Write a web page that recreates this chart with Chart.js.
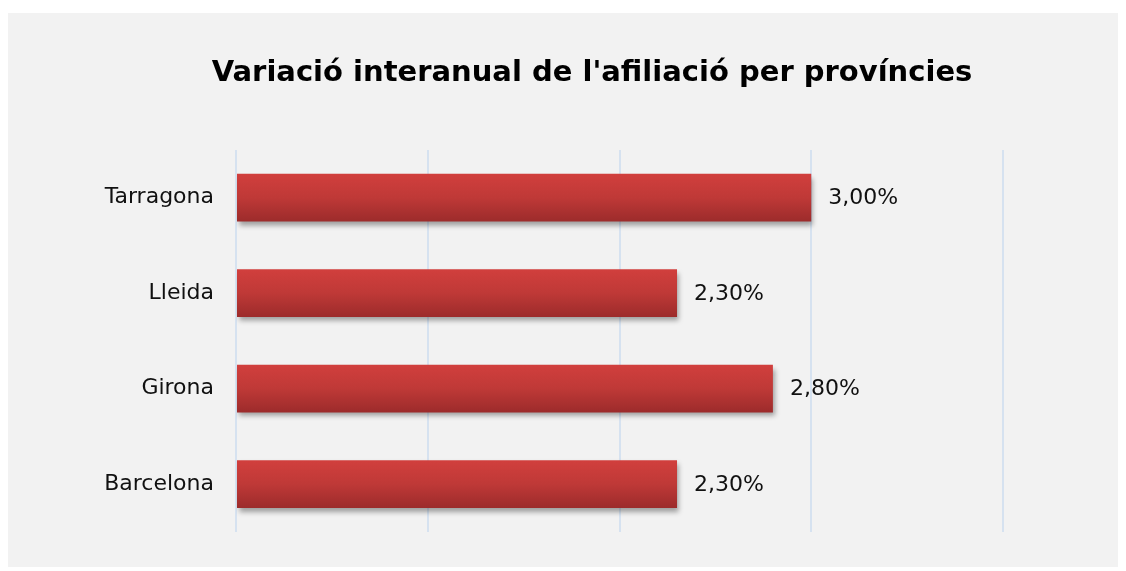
<!DOCTYPE html>
<html>
<head>
<meta charset="utf-8">
<script src="https://cdn.jsdelivr.net/npm/chart.js@4/dist/chart.umd.min.js"></script>
<style>
  html, body { margin: 0; padding: 0; background: #ffffff; }
  #box {
    position: absolute; left: 8px; top: 13px;
    width: 1110px; height: 554px; background: #f2f2f2;
  }
</style>
</head>
<body>
<div id="box"><canvas id="chart_bar" width="1110" height="554"></canvas></div>
<script>
// data
var provinces = ["Tarragona", "Lleida", "Girona", "Barcelona"];
var variation = [3.00, 2.30, 2.80, 2.30];
var axisTicks = [0, 1, 2, 3, 4];
var chartTitle = "Variació interanual de l'afiliació per províncies";

var FONT = "'DejaVu Sans', Verdana, sans-serif";

/* ---- gradient for each bar, top lighter to bottom darker ---- */
function barFill(ctx) {
	var chart = ctx.chart;
	var y = chart.scales.y;
	if (!y || ctx.dataIndex === undefined) return '#c23a38';
	var band = (y.bottom - y.top) / provinces.length;
	var mid = y.getPixelForValue(ctx.dataIndex);
	var half = band * 0.25;
	if (!isFinite(mid) || !isFinite(half) || half <= 0) return '#c23a38';
	var g = chart.ctx.createLinearGradient(0, mid - half, 0, mid + half);
	g.addColorStop(0, '#d13f3d');
	g.addColorStop(0.5, '#bf3937');
	g.addColorStop(1, '#9c2b2b');
	return g;
}

/* ---- title, centred a bit left of the plot centre ---- */
var topTitle = {
	id: 'topTitle',
	afterDraw: function(chart) {
		var c = chart.ctx;
		c.save();
		c.font = 'bold 29px ' + FONT;
		c.fillStyle = '#000000';
		c.textAlign = 'center';
		c.textBaseline = 'alphabetic';
		c.fillText(chartTitle, 584, 68);
		c.restore();
	}
};

/* ---- soft shadow under the bars ---- */
var barShadow = {
	id: 'barShadow',
	beforeDatasetsDraw: function(chart) {
		var c = chart.ctx;
		c.save();
		c.shadowColor = 'rgba(0,0,0,0.35)';
		c.shadowBlur = 5;
		c.shadowOffsetX = 2;
		c.shadowOffsetY = 4;
	},
	afterDatasetsDraw: function(chart) {
		chart.ctx.restore();
	}
};

/* ---- value labels at bar end ---- */
var valueLabels = {
	id: 'valueLabels',
	afterDatasetsDraw: function(chart) {
		var c = chart.ctx;
		var meta = chart.getDatasetMeta(0);
		c.save();
		c.font = '22px ' + FONT;
		c.fillStyle = '#111111';
		c.textAlign = 'left';
		c.textBaseline = 'middle';
		meta.data.forEach(function(bar, i) {
			var txt = variation[i].toFixed(2).replace('.', ',') + '%';
			c.fillText(txt, bar.x + 17, bar.y + 1);
		});
		c.restore();
	}
};

var ctx = document.getElementById('chart_bar');
var chart_bar = new Chart(ctx, {
	type: 'bar',
	data: {
		labels: provinces,
		datasets: [{
			data: variation,
			backgroundColor: barFill,
			borderWidth: 0,
			barPercentage: 0.5,
			categoryPercentage: 1.0
		}]
	},
	options: {
		indexAxis: 'y',
		responsive: false,
		animation: false,
		layout: {
			padding: { left: 40, right: 115, top: 137, bottom: 34 }
		},
		plugins: {
			legend: { display: false },
			tooltip: { enabled: false },
			title: { display: false }
		},
		scales: {
			x: {
				min: axisTicks[0],
				max: axisTicks[axisTicks.length - 1],
				afterBuildTicks: function(axis) {
					axis.ticks = axisTicks.map(function(v) { return { value: v }; });
				},
				ticks: { display: false },
				grid: { color: '#d6e2f0', lineWidth: 2, drawTicks: false },
				border: { display: false }
			},
			y: {
				afterFit: function(axis) { axis.width = 188; },
				ticks: {
					color: '#111111',
					padding: 22,
					font: { family: FONT, size: 22 }
				},
				grid: { display: false, drawTicks: false },
				border: { display: false }
			}
		}
	},
	plugins: [barShadow, valueLabels, topTitle]
});
</script>
</body>
</html>
